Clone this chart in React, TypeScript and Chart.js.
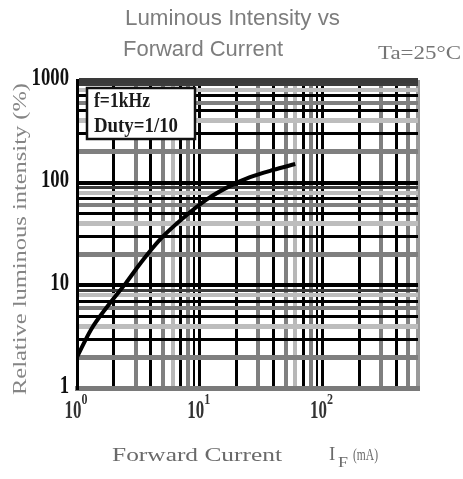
import React, { useEffect, useRef } from "react";
import { Chart, registerables } from "chart.js";

Chart.register(...registerables);

// ---- data ----
const currentMA = [1, 1.3, 1.8, 2.5, 3.3, 4.8, 7.3, 11.5, 17.7, 25.7, 39.6, 60];
const relIntensity = [2.0, 3.7, 6.4, 10.5, 16.5, 28.3, 45, 69, 93, 113, 133, 152];

const xRange = [1, 600];
const yRange = [1, 1000];
const xTickValues = [1, 10, 100];
const xTickExponents = ["0", "1", "2"];
const yTickValues = [1, 10, 100, 1000];
const yTickLabels = ["1", "10", "100", "1000"];

const titleLines = ["Luminous Intensity vs", "Forward Current"];
const conditionText = "Ta=25°C";
const legendLines = ["f=1kHz", "Duty=1/10"];
const yTitle = "Relative luminous intensity (%)";
const xTitleMain = "Forward Current";
const xTitleSymbol = "I";
const xTitleSub = "F";
const xTitleUnit = "(mA)";

function logGrid(min: number, max: number): number[] {
  const out: number[] = [];
  for (let e = Math.floor(Math.log10(min)); e <= Math.ceil(Math.log10(max)); e++) {
    for (let s = 1; s <= 9; s++) {
      const v = Math.round(s * Math.pow(10, e) * 1e6) / 1e6;
      if (v >= min - 1e-9 && v <= max + 1e-9) out.push(v);
    }
  }
  return out;
}

function sig(v: number): number {
  const e = Math.floor(Math.log10(v) + 1e-9);
  return Math.round(v / Math.pow(10, e));
}

const xGridStyle: Record<number, [string, number]> = {
  1: ["#000000", 3],
  2: ["#000000", 3],
  3: ["#7f7f7f", 4],
  4: ["#000000", 3],
  5: ["#808080", 4],
  6: ["#b8b8b8", 4],
  7: ["#000000", 3],
  8: ["#7f7f7f", 4],
  9: ["#000000", 2],
};
const yGridStyle: Record<number, [string, number]> = {
  1: ["#000000", 4],
  2: ["#7f7f7f", 5],
  3: ["#000000", 3],
  4: ["#bdbdbd", 5],
  5: ["#000000", 3],
  6: ["#7f7f7f", 4],
  7: ["#000000", 3],
  8: ["#bdbdbd", 4],
  9: ["#3c3c3c", 3],
};

function drawText(
  ctx: CanvasRenderingContext2D,
  text: string,
  x: number,
  y: number,
  font: string,
  color: string,
  opts: { width?: number; sx?: number; align?: "left" | "right" | "center" }
) {
  ctx.save();
  ctx.font = font;
  ctx.fillStyle = color;
  ctx.textBaseline = "middle";
  ctx.textAlign = "left";
  const w = ctx.measureText(text).width;
  const sx = opts.width ? opts.width / w : opts.sx ?? 1;
  const fw = w * sx;
  const align = opts.align ?? "left";
  const x0 = align === "left" ? x : align === "right" ? x - fw : x - fw / 2;
  ctx.translate(x0, y);
  ctx.scale(sx, 1);
  ctx.fillText(text, 0, 0);
  ctx.restore();
  return fw;
}

const textPlugin = {
  id: "referenceTexts",
  afterDraw(chart: any) {
    const ctx: CanvasRenderingContext2D = chart.ctx;
    const xs = chart.scales.x;
    const ys = chart.scales.y;
    const sans = '"Liberation Sans", Arial, sans-serif';
    const serif = '"Liberation Serif", "Times New Roman", serif';

    // titles
    drawText(ctx, titleLines[0], 125, 19, `22px ${sans}`, "#7d7d7d", { width: 215 });
    drawText(ctx, titleLines[1], 123, 50, `22px ${sans}`, "#7d7d7d", { width: 160 });
    drawText(ctx, conditionText, 378, 54, `18px ${serif}`, "#767676", { width: 83 });

    // legend box
    ctx.save();
    ctx.fillStyle = "#ffffff";
    ctx.fillRect(87, 88, 108, 51);
    ctx.strokeStyle = "#111111";
    ctx.lineWidth = 2.5;
    ctx.strokeRect(87, 88, 108, 51);
    ctx.restore();
    drawText(ctx, legendLines[0], 94, 101, `bold 22px ${serif}`, "#1a1a1a", { width: 56 });
    drawText(ctx, legendLines[1], 94, 126, `bold 22px ${serif}`, "#1a1a1a", { width: 84 });

    // y tick labels
    yTickValues.forEach((v, i) => {
      const py = ys.getPixelForValue(v) - 2;
      drawText(ctx, yTickLabels[i], 69, py, `bold 26px ${serif}`, "#111111", { sx: 0.72, align: "right" });
    });

    // x tick labels
    xTickValues.forEach((v, i) => {
      const px = xs.getPixelForValue(v) - 4;
      const w = drawText(ctx, "10", px, 411, `bold 26px ${serif}`, "#333333", { sx: 0.65, align: "center" });
      drawText(ctx, xTickExponents[i], px + w / 2, 400, `bold 15px ${serif}`, "#333333", { sx: 0.8 });
    });

    // y title (rotated)
    ctx.save();
    ctx.translate(21, 239);
    ctx.rotate(-Math.PI / 2);
    drawText(ctx, yTitle, 0, 0, `19px ${serif}`, "#858585", { width: 312, align: "center" });
    ctx.restore();

    // x title
    drawText(ctx, xTitleMain, 112, 456, `19px ${serif}`, "#6a6a6a", { width: 170 });
    drawText(ctx, xTitleSymbol, 329, 455, `19px ${serif}`, "#6a6a6a", { sx: 1 });
    drawText(ctx, xTitleSub, 338, 463, `14px ${serif}`, "#6a6a6a", { width: 10 });
    drawText(ctx, xTitleUnit, 353, 456, `17px ${serif}`, "#6a6a6a", { width: 25 });
  },
};

export default function App() {
  const ref = useRef<HTMLCanvasElement | null>(null);

  useEffect(() => {
    if (!ref.current) return;
    const xGrid = logGrid(xRange[0], xRange[1]);
    if (xGrid[xGrid.length - 1] !== xRange[1]) xGrid.push(xRange[1]);
    const yGrid = logGrid(yRange[0], yRange[1]);

    const chart = new Chart(ref.current, {
      type: "line",
      data: {
        datasets: [
          {
            data: currentMA.map((x, i) => ({ x, y: relIntensity[i] })),
            borderColor: "#000000",
            borderWidth: 4,
            pointRadius: 0,
            tension: 0.4,
            cubicInterpolationMode: "monotone",
            fill: false,
          },
        ],
      },
      options: {
        responsive: false,
        animation: false,
        devicePixelRatio: 1,
        layout: { padding: { top: 80, right: 45, left: 0, bottom: 0 } },
        plugins: {
          legend: { display: false },
          title: { display: false },
          tooltip: { enabled: false },
        },
        scales: {
          x: {
            type: "logarithmic",
            min: xRange[0],
            max: xRange[1],
            afterFit(s: any) {
              s.height = 91;
            },
            afterBuildTicks(s: any) {
              s.ticks = xGrid.map((v) => ({ value: v }));
            },
            ticks: { display: false },
            grid: {
              drawTicks: false,
              color: (c: any) =>
                c.tick && c.tick.value >= xRange[1] ? "#9a9a9a" : xGridStyle[sig(c.tick ? c.tick.value : 1)][0],
              lineWidth: (c: any) =>
                c.tick && c.tick.value >= xRange[1] ? 4 : xGridStyle[sig(c.tick ? c.tick.value : 1)][1],
            },
            border: { display: true, color: "#7a7a7a", width: 5 },
          },
          y: {
            type: "logarithmic",
            min: yRange[0],
            max: yRange[1],
            afterFit(s: any) {
              s.width = 77;
            },
            afterBuildTicks(s: any) {
              s.ticks = yGrid.map((v) => ({ value: v }));
            },
            ticks: { display: false },
            grid: {
              drawTicks: false,
              color: (c: any) =>
                c.tick && c.tick.value >= yRange[1] ? "#3a3a3a" : yGridStyle[sig(c.tick ? c.tick.value : 1)][0],
              lineWidth: (c: any) =>
                c.tick && c.tick.value >= yRange[1] ? 5 : yGridStyle[sig(c.tick ? c.tick.value : 1)][1],
            },
            border: { display: true, color: "#000000", width: 3 },
          },
        },
      } as any,
      plugins: [textPlugin],
    });
    return () => chart.destroy();
  }, []);

  return (
    <div style={{ position: "absolute", left: 0, top: 0, width: 463, height: 479, background: "#ffffff" }}>
      <canvas ref={ref} width={463} height={479} style={{ display: "block" }} />
    </div>
  );
}
